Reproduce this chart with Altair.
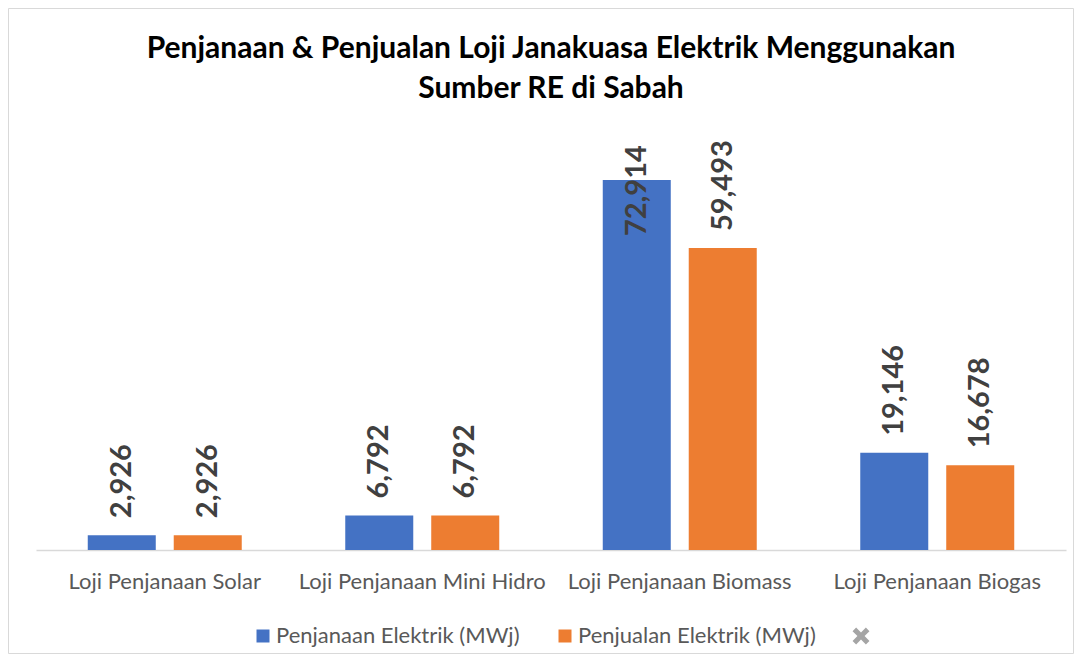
import altair as alt
import pandas as pd

categories = ["Loji Penjanaan Solar", "Loji Penjanaan Mini Hidro",
              "Loji Penjanaan Biomass", "Loji Penjanaan Biogas"]
penjanaan = [2926, 6792, 72914, 19146]
penjualan = [2926, 6792, 59493, 16678]
series_names = ["Penjanaan Elektrik (MWj)", "Penjualan Elektrik (MWj)", " "]
series_colors = ["#4472C4", "#ED7D31", "#A5A5A5"]

rows = []
for c, a, b in zip(categories, penjanaan, penjualan):
    rows.append({"cat": c, "series": series_names[0], "value": a})
    rows.append({"cat": c, "series": series_names[1], "value": b})
df = pd.DataFrame(rows)
legend_df = pd.DataFrame({"series": series_names, "v": [None, None, None]})

X_SHAPE = ("M-1.3,-0.75L-0.75,-1.3L0,-0.55L0.75,-1.3L1.3,-0.75L0.55,0L1.3,0.75"
           "L0.75,1.3L0,0.55L-0.75,1.3L-1.3,0.75L-0.55,0Z")

W, H = 1030, 406

x_enc = alt.X("cat:N", sort=categories, title=None,
              scale=alt.Scale(paddingInner=0.402, paddingOuter=0.201),
              axis=alt.Axis(labelAngle=0, labelFont="Lato", labelFontSize=22,
                            labelColor="#595959", ticks=False, grid=False,
                            domainColor="#D9D9D9", domainWidth=1.5,
                            labelPadding=21, labelLimit=0))
xoff = alt.XOffset("series:N", sort=series_names[:2],
                   scale=alt.Scale(domain=series_names[:2], paddingInner=0.209,
                                   paddingOuter=0))
y_scale = alt.Scale(domain=[0, 80000], nice=False)
color_enc = alt.Color("series:N",
                      scale=alt.Scale(domain=series_names, range=series_colors),
                      legend=alt.Legend(title=None, orient="none", direction="horizontal",
                                        legendX=216, legendY=481,
                                        labelFont="Lato", labelFontSize=22,
                                        labelColor="#595959", symbolSize=169,
                                        symbolStrokeWidth=0, labelOffset=2,
                                        columnPadding=34, labelLimit=0))

bars = alt.Chart(df).mark_bar().encode(
    x=x_enc, xOffset=xoff,
    y=alt.Y("value:Q", scale=y_scale, axis=None),
    color=color_enc,
)

# labels that would run past the top of the plot are pulled down inside it
labels = alt.Chart(df).transform_calculate(
    labpos="datum.value > 62000 ? 58500 : datum.value"
).mark_text(angle=270, align="left", baseline="middle", dx=17,
            font="Lato", fontSize=29, fontWeight="bold", color="#404040").encode(
    x=alt.X("cat:N", sort=categories), xOffset=xoff,
    y=alt.Y("labpos:Q", scale=y_scale),
    text=alt.Text("value:Q", format=","),
)

legend_pts = alt.Chart(legend_df).mark_point(filled=True, opacity=1).encode(
    y=alt.Y("v:Q", scale=y_scale),
    color=alt.Color("series:N", scale=alt.Scale(domain=series_names, range=series_colors)),
    shape=alt.Shape("series:N", scale=alt.Scale(domain=series_names,
                                                range=["square", "square", X_SHAPE])),
)

border = alt.Chart(alt.Data(values=[{"b": 1}])).mark_rect(
    fill=None, stroke="#D9D9D9", strokeWidth=1
).encode(x=alt.value(-27.5), x2=alt.value(W + 7.5),
         y=alt.value(-135.5), y2=alt.value(H + 103.5))

chart = alt.layer(border, bars, labels, legend_pts).properties(
    width=W, height=H,
    title=alt.TitleParams(
        text=["Penjanaan & Penjualan Loji Janakuasa Elektrik Menggunakan",
              "Sumber RE di Sabah"],
        font="Lato", fontSize=30, fontWeight="bold", color="#000000",
        anchor="middle", frame="group", lineHeight=40, offset=-96),
    autosize=alt.AutoSizeParams(type="none"),
    padding={"left": 28, "top": 136, "right": 8, "bottom": 104},
).configure_view(stroke=None)

chart.save("out.html", embed_options={"renderer": "svg", "actions": False})
